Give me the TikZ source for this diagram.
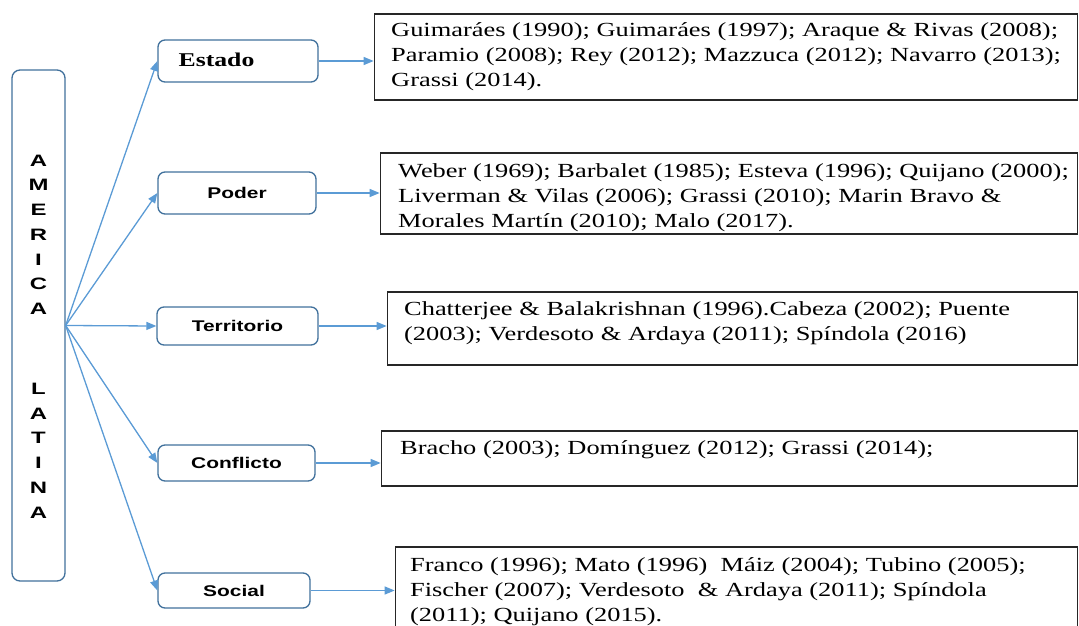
\documentclass[tikz,border=0pt]{standalone}
\usepackage{fontspec}
\setmainfont{Liberation Serif}
\newfontfamily\reffont[FakeStretch=1.32]{Liberation Serif}
\newfontfamily\labfont[FakeStretch=1.35]{Liberation Sans}
\newfontfamily\amfont[FakeStretch=1.45]{Liberation Sans}
\usetikzlibrary{arrows.meta}
\definecolor{boxblue}{HTML}{41719C}
\definecolor{arrblue}{HTML}{5B9BD5}
\begin{document}
\begin{tikzpicture}[x=1pt,y=-1pt,
  catbox/.style={draw=boxblue, line width=1.3pt, rounded corners=7pt, fill=white, inner sep=0pt},
  refbox/.style={draw=black!85, line width=1.2pt, inner sep=0pt},
  conn/.style={draw=arrblue, line width=1.3pt, -{Triangle[length=10pt,width=8pt]}},
  reftext/.style={anchor=base west, inner sep=0pt, text width=690pt, align=left, font=\reffont\fontsize{20}{25}\selectfont},
  labtext/.style={inner sep=0pt, font=\labfont\bfseries\fontsize{15.5}{24.75}\selectfont},
  amtext/.style={inner sep=0pt, font=\amfont\bfseries\fontsize{16.5}{24.75}\selectfont},
  sertext/.style={inner sep=0pt, font=\reffont\bfseries\fontsize{19.5}{24}\selectfont}]
\useasboundingbox (0,0) rectangle (1079,626);
% left box
\node[catbox, rounded corners=8pt, minimum width=53pt, minimum height=511pt] (am) at (38.5,325.5) {};
\node[amtext, align=center] (amtxt) at (38.5,336.5) {A\\M\\E\\R\\I\\C\\A\\[55pt]L\\A\\T\\I\\N\\A};
% category boxes
\node[catbox, minimum width=160pt, minimum height=42pt] (estado) at (238,61) {};
\node[sertext] (estadolbl) at (216.5,60) {Estado};
\node[catbox, labtext, minimum width=158pt, minimum height=42pt] (poder) at (237,193) {Poder};
\node[catbox, labtext, minimum width=161pt, minimum height=38pt] (terr) at (237.5,326) {Territorio};
\node[catbox, labtext, minimum width=157pt, minimum height=36pt] (confl) at (236.5,463) {Conflicto};
\node[catbox, labtext, minimum width=152pt, minimum height=35pt] (social) at (234,590.5) {Social};
% reference boxes
\node[refbox, minimum width=703pt, minimum height=86pt] (r1) at (725.75,57) {};
\node[refbox, minimum width=697pt, minimum height=81pt] (r2) at (728.75,193.5) {};
\node[refbox, minimum width=690pt, minimum height=73pt] (r3) at (732.25,328.5) {};
\node[refbox, minimum width=696pt, minimum height=55pt] (r4) at (729.25,458.5) {};
\node[refbox, minimum width=682pt, minimum height=85pt] (r5) at (736.25,589.5) {};
\node[reftext] (t1) at (391,37) {Guimaráes (1990); Guimaráes (1997); Araque \& Rivas (2008);\\Paramio (2008); Rey (2012); Mazzuca (2012); Navarro (2013);\\Grassi (2014).};
\node[reftext] (t2) at (398,177) {Weber (1969); Barbalet (1985); Esteva (1996); Quijano (2000);\\Liverman \& Vilas (2006); Grassi (2010); Marin Bravo \&\\Morales Martín (2010); Malo (2017).};
\node[reftext] (t3) at (404,315) {Chatterjee \& Balakrishnan (1996).Cabeza (2002); Puente\\(2003); Verdesoto \& Ardaya (2011); Spíndola (2016)};
\node[reftext] (t4) at (400,454) {Bracho (2003); Domínguez (2012); Grassi (2014);};
\node[reftext] (t5) at (410,571) {Franco (1996); Mato (1996)\ \ Máiz (2004); Tubino (2005);\\Fischer (2007); Verdesoto\ \ \& Ardaya (2011); Spíndola\\(2011); Quijano (2015).};
% connectors
\draw[conn] (am.east) -- (estado.west);
\draw[conn] (am.east) -- (poder.west);
\draw[conn] (am.east) -- (terr.west);
\draw[conn] (am.east) -- (confl.west);
\draw[conn] (am.east) -- (social.west);
\draw[conn] (estado.east) -- (estado.east -| r1.west);
\draw[conn] (poder.east) -- (poder.east -| r2.west);
\draw[conn] (terr.east) -- (terr.east -| r3.west);
\draw[conn] (confl.east) -- (confl.east -| r4.west);
\draw[conn] (social.east) -- (social.east -| r5.west);
\end{tikzpicture}
\end{document}
